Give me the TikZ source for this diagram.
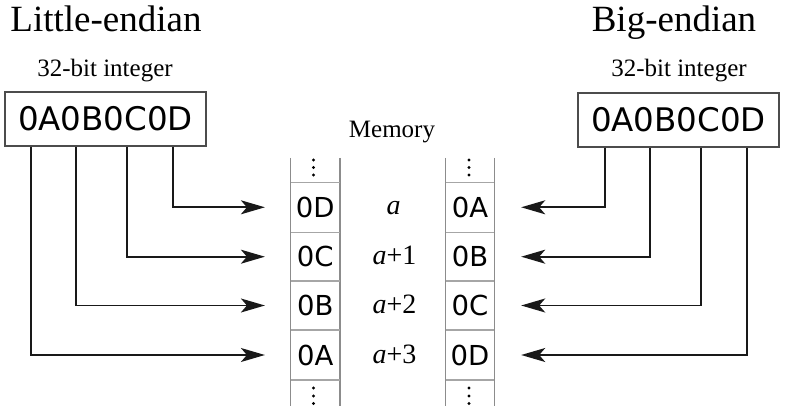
\documentclass[tikz,border=0pt]{standalone}
\usepackage{fontspec}
\setmainfont{Liberation Serif}
\newfontfamily\dejavu{DejaVu Sans}
\usetikzlibrary{arrows.meta}
\begin{document}
\begin{tikzpicture}[x=1pt,y=-1pt,
  title/.style={anchor=base,inner sep=0pt,font=\fontsize{37}{40}\selectfont},
  sub/.style={anchor=base,inner sep=0pt,font=\fontsize{25}{28}\selectfont},
  box/.style={draw=black!70,line width=1.4pt,minimum width=201pt,minimum height=54pt,inner sep=0pt,font=\dejavu\fontsize{32.5}{35}\selectfont},
  cell/.style={inner sep=0pt,minimum width=49pt,minimum height=49pt,font=\dejavu\fontsize{27.5}{30}\selectfont},
  addr/.style={anchor=base,inner sep=0pt,font=\fontsize{28}{30}\selectfont},
  colline/.style={draw=black!45,line width=1.4pt},
  sepline/.style={draw=black!35,line width=1.2pt},
  conn/.style={draw=black!90,line width=1.7pt,-{Stealth[length=24pt,width=14pt,inset=6pt]}},
  dot/.style={fill=black,draw=none}]
\useasboundingbox (0,0) rectangle (785,406);

% titles
\node[title] (tl) at (106,32) {Little-endian};
\node[title] (tr) at (674,32) {Big-endian};
\node[sub] (sl) at (105,77) {32-bit integer};
\node[sub] (sr) at (679,77) {32-bit integer};
\node[sub] (mem) at (392,138) {Memory};

% integer boxes
\node[box] (lb) at (105.5,119) {0A0B0C0D};
\node[box] (rb) at (678.5,120) {0A0B0C0D};

% memory cells
\foreach \n/\y/\l/\r in {1/207.3/0D/0A,2/256.7/0C/0B,3/305.5/0B/0C,4/355/0A/0D}{
  \node[cell] (L\n) at (315.3,\y) {\l};
  \node[cell] (R\n) at (470,\y) {\r};
}

% column lines
\foreach \x in {290.7,340,445.7,494.3}{
  \draw[colline] (\x,158) -- (\x,406);
}
\foreach \y in {182.3,232.3,281,330,380}{
  \draw[sepline] (290.7,\y) -- (340,\y);
  \draw[sepline] (445.7,\y) -- (494.3,\y);
}

% ellipsis dots
\foreach \x in {313.5,469}{
  \foreach \y in {160,167.5,175,388,396,403.5}{
    \fill[dot] (\x,\y) circle (1.7pt);
  }
}

% addresses
\node[addr] (a0) at (393.5,215) {\textit{a}};
\node[addr] (a1) at (394.5,265) {\textit{a}+1};
\node[addr] (a2) at (394.5,313) {\textit{a}+2};
\node[addr] (a3) at (394.5,363) {\textit{a}+3};

% little-endian connectors
\draw[conn] ([xshift=169pt]lb.south west) |- ([xshift=-25.7pt]L1.west);
\draw[conn] ([xshift=123pt]lb.south west) |- ([xshift=-25.7pt]L2.west);
\draw[conn] ([xshift=72pt]lb.south west) |- ([xshift=-25.7pt]L3.west);
\draw[conn] ([xshift=27pt]lb.south west) |- ([xshift=-25.7pt]L4.west);

% big-endian connectors
\draw[conn] ([xshift=28pt]rb.south west) |- ([xshift=26.5pt]R1.east);
\draw[conn] ([xshift=73pt]rb.south west) |- ([xshift=26.5pt]R2.east);
\draw[conn] ([xshift=124pt]rb.south west) |- ([xshift=26.5pt]R3.east);
\draw[conn] ([xshift=170pt]rb.south west) |- ([xshift=26.5pt]R4.east);
\end{tikzpicture}
\end{document}
